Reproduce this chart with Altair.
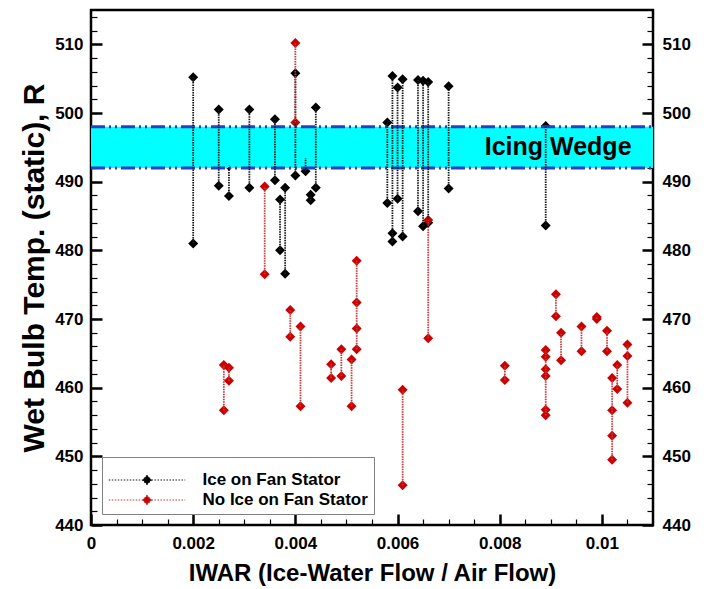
import altair as alt
import pandas as pd

# ---------------- data ----------------
series_names = ["Ice on Fan Stator", "No Ice on Fan Stator"]
point_colors = ["#000000", "#cc0000"]
rule_colors = ["#1a1a1a", "#c03a3a"]

ice_x = [0.0020, 0.0020, 0.0025, 0.0025, 0.0027, 0.0027, 0.0031, 0.0031,
         0.0036, 0.0036, 0.0037, 0.0037, 0.0038, 0.0038, 0.0040, 0.0040,
         0.0042, 0.0042, 0.0043, 0.0043, 0.0044, 0.0044, 0.0058, 0.0058,
         0.0059, 0.0059, 0.0059, 0.0060, 0.0060, 0.0061, 0.0061, 0.0064,
         0.0064, 0.0065, 0.0065, 0.0066, 0.0066, 0.0070, 0.0070, 0.0089,
         0.0089]
ice_y = [505.2, 481.0, 500.5, 489.4, 492.3, 487.9, 500.5, 489.1,
         499.1, 490.2, 487.4, 480.0, 489.1, 476.6, 505.8, 490.9,
         493.4, 491.5, 488.1, 487.3, 500.8, 489.1, 498.6, 486.9,
         505.4, 482.5, 481.3, 503.7, 487.5, 504.9, 482.0, 504.8,
         485.7, 504.7, 483.5, 504.5, 484.0, 503.9, 489.0, 498.1,
         483.6]

noice_x = [0.0026, 0.0026, 0.0027, 0.0027, 0.0034, 0.0034, 0.0039, 0.0039,
           0.0040, 0.0040, 0.0041, 0.0041, 0.0047, 0.0047, 0.0049, 0.0049,
           0.0051, 0.0051, 0.0052, 0.0052, 0.0052, 0.0052, 0.0061, 0.0061,
           0.0066, 0.0066, 0.0081, 0.0081, 0.0089, 0.0089, 0.0089, 0.0089,
           0.0089, 0.0089, 0.0091, 0.0091, 0.0092, 0.0092, 0.0096, 0.0096,
           0.0099, 0.0099, 0.0101, 0.0101, 0.0102, 0.0102, 0.0102, 0.0102,
           0.0103, 0.0103, 0.0105, 0.0105, 0.0105]
noice_y = [463.3, 456.7, 462.9, 461.0, 489.3, 476.5, 471.3, 467.4,
           510.2, 498.6, 468.9, 457.3, 463.4, 461.4, 465.6, 461.7,
           464.1, 457.3, 478.5, 472.4, 468.6, 465.6, 459.7, 445.8,
           484.4, 467.2, 463.2, 461.1, 465.5, 464.5, 462.7, 461.7,
           456.8, 456.0, 473.6, 470.4, 468.0, 464.0, 468.9, 465.3,
           470.3, 470.0, 468.3, 465.3, 461.4, 456.7, 453.0, 449.5,
           463.3, 459.8, 466.3, 464.6, 457.8]

wedge_x = [0.0, 0.011]
wedge_y = [492, 498]
wedge_label = ["Icing Wedge"]
wedge_label_x = [0.01058]
wedge_label_y = [495]

x_domain = [0.0, 0.011]
y_domain = [440, 515]
x_major = [0.0, 0.002, 0.004, 0.006, 0.008, 0.01]
x_minor = [0.0, 0.0005, 0.001, 0.0015, 0.002, 0.0025, 0.003, 0.0035, 0.004,
           0.0045, 0.005, 0.0055, 0.006, 0.0065, 0.007, 0.0075, 0.008,
           0.0085, 0.009, 0.0095, 0.01, 0.0105]
y_major = [440, 450, 460, 470, 480, 490, 500, 510]
y_minor = [440, 442, 444, 446, 448, 450, 452, 454, 456, 458, 460, 462, 464,
           466, 468, 470, 472, 474, 476, 478, 480, 482, 484, 486, 488, 490,
           492, 494, 496, 498, 500, 502, 504, 506, 508, 510, 512, 514]

# ---------------- tables ----------------
points_df = pd.concat([
    pd.DataFrame({"x": ice_x, "y": ice_y, "series": series_names[0]}),
    pd.DataFrame({"x": noice_x, "y": noice_y, "series": series_names[1]}),
], ignore_index=True)
wedge_df = pd.DataFrame({"x0": [wedge_x[0]], "x1": [wedge_x[1]],
                         "y0": [wedge_y[0]], "y1": [wedge_y[1]]})
top_df = pd.DataFrame({"x0": [wedge_x[0]], "x1": [wedge_x[1]], "y": [wedge_y[1]]})
bot_df = pd.DataFrame({"x0": [wedge_x[0]], "x1": [wedge_x[1]], "y": [wedge_y[0]]})
label_df = pd.DataFrame({"x": wedge_label_x, "y": wedge_label_y, "label": wedge_label})

W, H = 562, 515
FONT = "Liberation Sans"

xs = alt.Scale(domain=x_domain, nice=False, zero=False)
ys = alt.Scale(domain=y_domain, nice=False, zero=False)

lab = dict(labelFont=FONT, labelFontSize=17, labelFontWeight="bold",
           labelColor="black", labelFlush=False, labelOverlap=False)
tit = dict(titleFont=FONT, titleFontWeight="bold", titleColor="black")

ax_y_left_labels = alt.Axis(orient="left", values=y_major, format="d", ticks=False,
                            domain=False, grid=False, labelPadding=8,
                            title="Wet Bulb Temp. (static), R", titleFontSize=30,
                            titlePadding=5, **lab, **tit)
ax_y_right_labels = alt.Axis(orient="right", values=y_major, format="d", ticks=False,
                             domain=False, grid=False, labelPadding=9, title=None, **lab)


def tick_axis(orient, offset, vals, size, width):
    return alt.Axis(orient=orient, offset=offset, values=vals, labels=False,
                    domain=False, grid=False, ticks=True, tickSize=size,
                    tickWidth=width, tickColor="black", title=None)


ax_y_lmaj = tick_axis("right", -W, y_major, 11, 2.5)
ax_y_lmin = tick_axis("right", -W, y_minor, 6, 1.2)
ax_y_rmaj = tick_axis("left", -W, y_major, 11, 2.5)
ax_y_rmin = tick_axis("left", -W, y_minor, 6, 1.2)

ax_x_labels = alt.Axis(orient="bottom", values=x_major, format="~g", ticks=False,
                       domain=False, grid=False, labelPadding=10,
                       title="IWAR (Ice-Water Flow / Air Flow)", titleFontSize=24,
                       titlePadding=10, **lab, **tit)
ax_x_maj = tick_axis("top", -H, x_major, 11, 2.5)
ax_x_min = tick_axis("top", -H, x_minor, 6, 1.2)

legend_path = "M-8.5,0L-1,0M0,-1L1,0L0,1L-1,0ZM1,0L8.5,0"
leg = alt.Legend(title=" ", titleFontSize=8, titlePadding=1,
                 orient="bottom-left", offset=11,
                 symbolType=legend_path, symbolSize=81, symbolStrokeWidth=1.2,
                 symbolDash=[1.5, 1.5],
                 symbolOffset=31, labelOffset=47,
                 labelFont=FONT, labelFontSize=17, labelFontWeight="bold",
                 labelColor="black", labelLimit=400, fillColor="white",
                 strokeColor="#808080", padding=5.5, rowPadding=2)

# ---------------- layers ----------------
band = alt.Chart(wedge_df).mark_rect(color="#00ffff").encode(
    x=alt.X("x0:Q", scale=xs, axis=ax_x_labels), x2="x1:Q",
    y=alt.Y("y0:Q", scale=ys, axis=ax_y_left_labels), y2="y1:Q")

dash = [14, 4, 2, 4, 2, 4]
band_top = alt.Chart(top_df).mark_rule(color="#2b3fc0", strokeWidth=3, strokeDash=dash).encode(
    x=alt.X("x0:Q", scale=xs, axis=ax_x_maj), x2="x1:Q",
    y=alt.Y("y:Q", scale=ys, axis=ax_y_right_labels))
band_bot = alt.Chart(bot_df).mark_rule(color="#2b3fc0", strokeWidth=3, strokeDash=dash).encode(
    x=alt.X("x0:Q", scale=xs, axis=ax_x_min), x2="x1:Q",
    y=alt.Y("y:Q", scale=ys, axis=ax_y_lmaj))

label = alt.Chart(label_df).mark_text(align="right", baseline="middle", font=FONT,
                                      fontSize=25, fontWeight="bold", color="black").encode(
    x=alt.X("x:Q", scale=xs, axis=None),
    y=alt.Y("y:Q", scale=ys, axis=ax_y_lmin),
    text="label:N")

rules = alt.Chart(points_df).mark_rule(strokeDash=[1.5, 1], strokeWidth=1.8).encode(
    x=alt.X("x:Q", scale=xs, axis=None),
    y=alt.Y("min(y):Q", scale=ys, axis=ax_y_rmaj),
    y2="max(y):Q",
    stroke=alt.Stroke("series:N", scale=alt.Scale(domain=series_names, range=rule_colors),
                      legend=None))

pts = alt.Chart(points_df).mark_point(filled=True, shape="diamond", size=100,
                                      opacity=1).encode(
    x=alt.X("x:Q", scale=xs, axis=None),
    y=alt.Y("y:Q", scale=ys, axis=ax_y_rmin),
    color=alt.Color("series:N", scale=alt.Scale(domain=series_names, range=point_colors),
                    legend=leg))

chart = alt.layer(pts, band, band_top, band_bot, label, rules).resolve_scale(
    x="shared", y="shared").resolve_axis(x="independent", y="independent").properties(
    width=W, height=H,
    padding={"left": 91, "top": 10, "right": 57, "bottom": 64},
    autosize=alt.AutoSizeParams(type="none"),
    background="white").configure_view(stroke="black", strokeWidth=2.5)

chart.save("out.html", embed_options={"renderer": "svg", "actions": False})
